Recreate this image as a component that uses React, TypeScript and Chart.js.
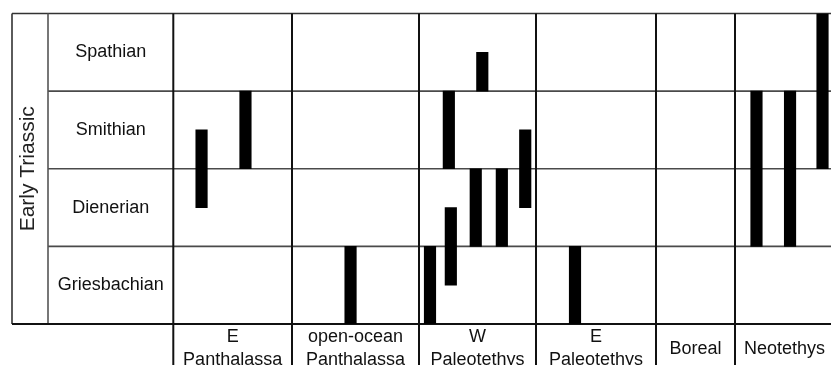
import React, { useEffect, useRef } from "react";
import { Chart, registerables } from "chart.js";

Chart.register(...registerables);

// ---- data ----
const stages = ["Griesbachian", "Dienerian", "Smithian", "Spathian"];
const regions: (string | string[])[] = [
  ["E", "Panthalassa"],
  ["open-ocean", "Panthalassa"],
  ["W", "Paleotethys"],
  ["E", "Paleotethys"],
  "Boreal",
  "Neotethys",
];
const axisTitle = "Early Triassic";

// occurrence ranges, in stage units (0 = base of Griesbachian, 4 = top of Spathian)
const rangeRegion = [0, 0, 1, 2, 2, 2, 2, 2, 2, 2, 3, 5, 5, 5];
const rangeSlot = [0.238, 0.608, 0.461, 0.094, 0.255, 0.272, 0.541, 0.485, 0.708, 0.908, 0.325, 0.217, 0.556, 0.884];
const rangeFrom = [1.5, 2, 0, 0, 2, 0.5, 3, 1, 1, 1.5, 0, 1, 1, 2];
const rangeTo = [2.5, 3, 1, 1, 3, 1.5, 3.5, 2, 2, 2.5, 1, 3, 3, 4];

// ---- layout ----
const REGION_WIDTHS = [118.7, 127, 117, 120, 79, 99];
const FONT = "Arial, 'Liberation Sans', sans-serif";
const FRAME_LEFT = 12;
const STAGE_LEFT = 48;
const AXIS_WIDTH = 173.3;
const TOP = 13.5;
const BOTTOM_AXIS = 41;
const CANVAS_W = 840;
const CANVAS_H = 365;

const regionStarts: number[] = [];
REGION_WIDTHS.reduce((acc, w) => {
  regionStarts.push(acc);
  return acc + w;
}, 0);
const X_MAX = REGION_WIDTHS.reduce((a, b) => a + b, 0);
const regionBounds = [...regionStarts, X_MAX];
const regionCenters = regionStarts.map((s, i) => s + REGION_WIDTHS[i] / 2);

const framePlugin = {
  id: "frame",
  beforeDatasetsDraw(chart: any) {
    const { ctx, scales } = chart;
    const xs = scales.x;
    const ys = scales.y;
    const rightEnd = chart.width;
    ctx.save();
    const line = (x0: number, y0: number, x1: number, y1: number, w: number, c: string) => {
      ctx.beginPath();
      ctx.lineWidth = w;
      ctx.strokeStyle = c;
      ctx.moveTo(x0, y0);
      ctx.lineTo(x1, y1);
      ctx.stroke();
    };
    // row boundaries
    for (let k = 1; k < stages.length; k++) {
      const py = ys.getPixelForValue(k);
      line(STAGE_LEFT, py, rightEnd, py, 1.6, "#4a4a4a");
    }
    const topY = ys.getPixelForValue(stages.length);
    const botY = ys.getPixelForValue(0);
    line(FRAME_LEFT, topY, rightEnd, topY, 1.6, "#333");
    // left frame lines
    line(FRAME_LEFT, topY, FRAME_LEFT, botY, 1.6, "#333");
    line(STAGE_LEFT, topY, STAGE_LEFT, botY, 1.6, "#555");
    // region boundaries
    regionBounds.forEach((b) => {
      const px = xs.getPixelForValue(b);
      line(px, topY, px, chart.height, 2, "#111");
    });
    line(FRAME_LEFT, botY, rightEnd, botY, 2, "#111");
    ctx.restore();
  },
};

export default function App() {
  const ref = useRef<HTMLCanvasElement | null>(null);
  useEffect(() => {
    if (!ref.current) return;
    const data = rangeRegion.map((r, i) => ({
      x: regionStarts[r] + rangeSlot[i] * REGION_WIDTHS[r],
      y: [rangeFrom[i], rangeTo[i]],
    }));
    const chart = new Chart(ref.current, {
      type: "bar",
      data: {
        datasets: [
          {
            data: data as any,
            backgroundColor: "#000",
            borderWidth: 0,
            barThickness: 11.5,
          },
        ],
      },
      plugins: [framePlugin],
      options: {
        animation: false,
        responsive: true,
        maintainAspectRatio: false,
        layout: { padding: { top: TOP, right: CANVAS_W - AXIS_WIDTH - X_MAX, bottom: 0, left: 0 } },
        plugins: { legend: { display: false }, tooltip: { enabled: false } },
        scales: {
          x: {
            type: "linear",
            min: 0,
            max: X_MAX,
            offset: false,
            grid: { display: false, drawTicks: false },
            border: { display: false },
            afterBuildTicks: (axis: any) => {
              axis.ticks = regionCenters.map((v) => ({ value: v }));
            },
            afterFit: (axis: any) => {
              axis.height = BOTTOM_AXIS;
              axis.paddingLeft = 0;
              axis.paddingRight = 0;
            },
            ticks: {
              autoSkip: false,
              maxRotation: 0,
              minRotation: 0,
              crossAlign: "center",
              padding: 13.5,
              color: "#111",
              font: { family: FONT, size: 18, lineHeight: 1.24 },
              callback: (_v: any, i: number) => regions[i] as any,
            },
          },
          y: {
            type: "linear",
            min: 0,
            max: stages.length,
            grid: { display: false, drawTicks: false },
            border: { display: false },
            afterBuildTicks: (axis: any) => {
              axis.ticks = stages.map((_, i) => ({ value: i + 0.5 }));
            },
            afterFit: (axis: any) => {
              axis.width = AXIS_WIDTH;
              axis.paddingTop = 0;
              axis.paddingBottom = 0;
            },
            ticks: {
              autoSkip: false,
              crossAlign: "center",
              padding: 9.5,
              color: "#111",
              font: { family: FONT, size: 18, lineHeight: 1.2 },
              callback: (_v: any, i: number) => stages[i],
            },
            title: {
              display: true,
              text: axisTitle,
              color: "#222",
              font: { family: FONT, size: 21, lineHeight: 1.2 },
              padding: { top: 15.4, bottom: 0 },
            },
          },
        },
      },
    });
    return () => chart.destroy();
  }, []);
  return (
    <div
      style={{
        position: "fixed",
        left: 0,
        top: 0,
        width: 831,
        height: CANVAS_H,
        overflow: "hidden",
        background: "#fff",
      }}
    >
      <div style={{ position: "relative", width: CANVAS_W, height: CANVAS_H }}>
        <canvas ref={ref} />
      </div>
    </div>
  );
}
